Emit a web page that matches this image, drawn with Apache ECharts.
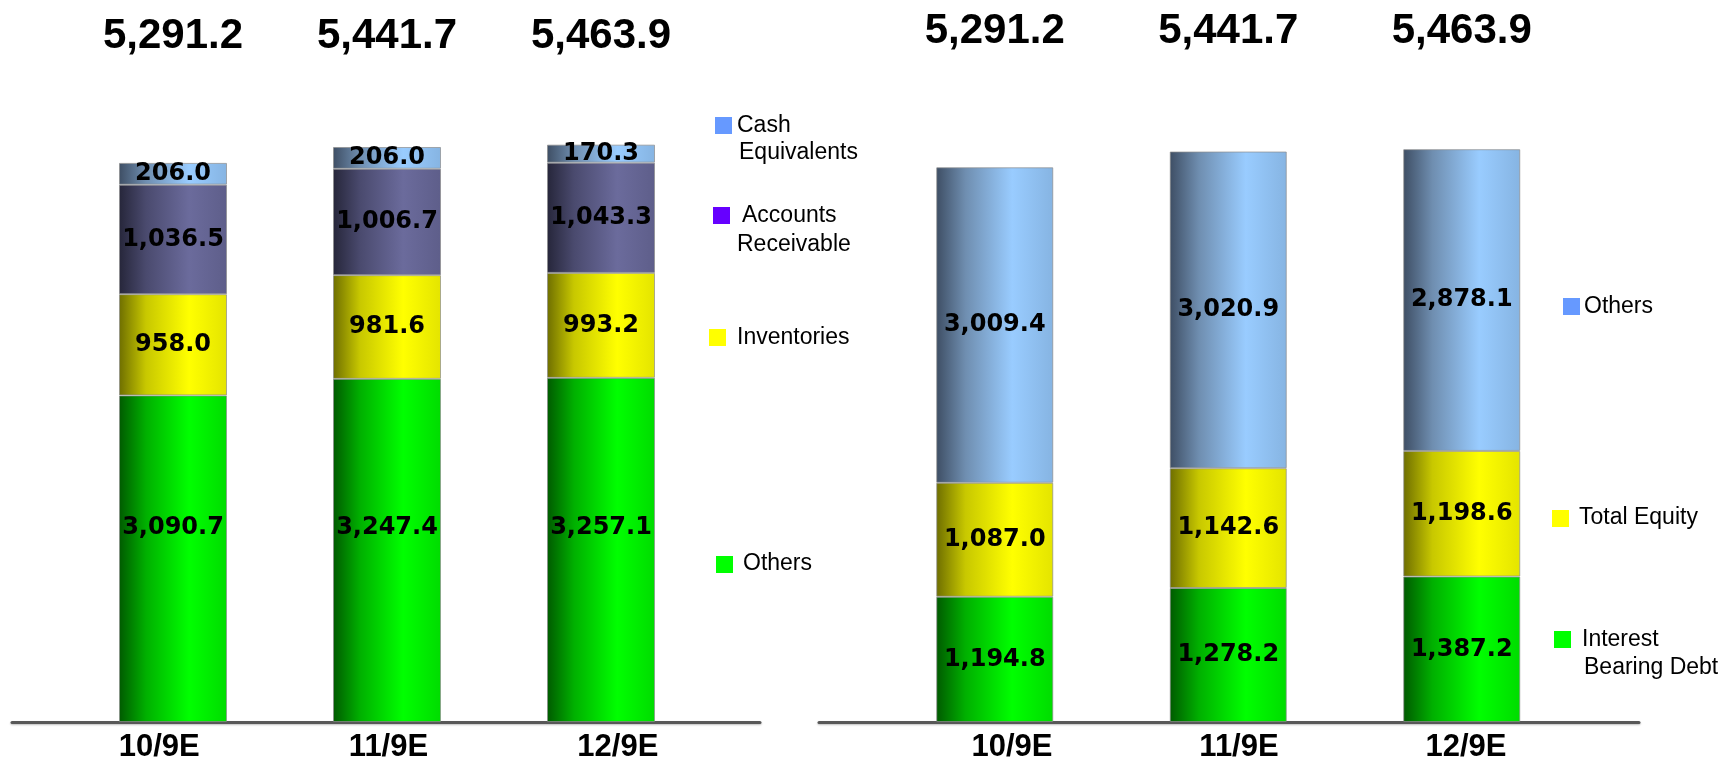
<!DOCTYPE html>
<html>
<head>
<meta charset="utf-8">
<script src="https://cdn.jsdelivr.net/npm/echarts@6/dist/echarts.min.js"></script>
<style>
  html, body { margin: 0; padding: 0; background: #ffffff; }
  #chart { width: 1728px; height: 762px; }
</style>
</head>
<body>
<div id="chart"></div>
<script>
// Periods shown on both panels
const periods = ['10/9E', '11/9E', '12/9E'];

// Assets (left panel), bottom to top
const assetOthers = [3090.7, 3247.4, 3257.1];
const assetInventories = [958.0, 981.6, 993.2];
const assetReceivable = [1036.5, 1006.7, 1043.3];
const assetCash = [206.0, 206.0, 170.3];

// Liabilities and equity (right panel), bottom to top
const liabDebt = [1194.8, 1278.2, 1387.2];
const liabEquity = [1087.0, 1142.6, 1198.6];
const liabOthers = [3009.4, 3020.9, 2878.1];

const fmt = v => v.toLocaleString('en-US', { minimumFractionDigits: 1, maximumFractionDigits: 1 });
const sumOf = (...cols) => cols[0].map((_, i) => cols.reduce((s, c) => s + c[i], 0));
const assetTotals = sumOf(assetOthers, assetInventories, assetReceivable, assetCash).map(fmt);
const liabTotals = sumOf(liabDebt, liabEquity, liabOthers).map(fmt);

const HEAD_FONT = '"Liberation Sans", Arial, sans-serif';
const VALUE_FONT = '"DejaVu Sans", Verdana, sans-serif';
const LEGEND_FONT = '"Liberation Sans", Arial, sans-serif';

// Cylinder-like horizontal shading
function shade(dark, mid, light, edge) {
  return {
    type: 'linear', x: 0, y: 0, x2: 1, y2: 0,
    colorStops: [
      { offset: 0, color: dark },
      { offset: 0.25, color: mid },
      { offset: 0.65, color: light },
      { offset: 1, color: edge }
    ]
  };
}
const GREEN = shade('#005a00', '#00b000', '#00ff00', '#00dc00');
const YELLOW = shade('#6e6e00', '#c8c800', '#ffff00', '#e4e400');
const PURPLE = shade('#26263a', '#4a4a6e', '#6b6b9c', '#5e5e8a');
const SKY = shade('#3e4e64', '#6f8eb0', '#99ccff', '#86b4e2');

const valueLabel = {
  show: true,
  position: 'inside',
  fontFamily: VALUE_FONT,
  fontWeight: 'bold',
  fontSize: 24,
  color: '#000000',
  formatter: p => fmt(p.value)
};

function barSeries(name, data, color, grid, width, labelOverride) {
  return {
    name, type: 'bar', stack: 'g' + grid,
    xAxisIndex: grid, yAxisIndex: grid,
    data, barWidth: width,
    itemStyle: { color, borderColor: 'rgba(140,140,140,0.7)', borderWidth: 1 },
    label: Object.assign({}, valueLabel, labelOverride || {}),
    emphasis: { disabled: true }
  };
}

const hiddenY = (grid, max) => ({ type: 'value', gridIndex: grid, min: 0, max, show: false });

const baseLine = { color: '#585858', width: 3, shadowColor: 'rgba(0,0,0,0.25)', shadowBlur: 2, shadowOffsetY: 1 };

const periodAxis = grid => ({
  type: 'category', gridIndex: grid, data: periods,
  axisLine: { show: false }, axisTick: { show: false },
  axisLabel: { interval: 0, margin: 12, verticalAlign: 'top', lineHeight: 26, fontFamily: HEAD_FONT, fontWeight: 'bold', fontSize: 31, color: '#000' }
});
const totalAxis = (grid, totals, margin) => ({
  type: 'category', gridIndex: grid, position: 'top', data: totals,
  axisLine: { show: false }, axisTick: { show: false },
  axisLabel: { interval: 0, margin, verticalAlign: 'bottom', lineHeight: 42, fontFamily: HEAD_FONT, fontWeight: 'bold', fontSize: 42, color: '#000' }
});
const lineAxis = grid => ({
  type: 'value', gridIndex: grid, min: 0, max: 1,
  axisLine: { show: true, onZero: false, lineStyle: baseLine },
  axisTick: { show: false }, axisLabel: { show: false }, splitLine: { show: false }
});

const option = {
  animation: false,
  backgroundColor: '#ffffff',
  grid: [
    // 0: left bars, 1: right bars
    { left: 66, width: 642, top: 88, bottom: 40, outerBoundsMode: 'none' },
    { left: 878, width: 700.5, top: 93, bottom: 40, outerBoundsMode: 'none' },
    // 2, 3: base lines
    { left: 12, right: 968, top: 600, bottom: 40, outerBoundsMode: 'none' },
    { left: 819, right: 89, top: 600, bottom: 40, outerBoundsMode: 'none' },
    // 4, 5: period labels
    { left: 44.5, width: 688, top: 600, bottom: 40, outerBoundsMode: 'none' },
    { left: 898.5, width: 681, top: 600, bottom: 40, outerBoundsMode: 'none' }
  ],
  xAxis: [
    { type: 'category', gridIndex: 0, data: periods, show: false },
    { type: 'category', gridIndex: 1, data: periods, show: false },
    lineAxis(2),
    lineAxis(3),
    periodAxis(4),
    periodAxis(5),
    totalAxis(0, assetTotals, 31),
    totalAxis(1, liabTotals, 41)
  ],
  yAxis: [
    hiddenY(0, 6000), hiddenY(1, 6000),
    hiddenY(2, 1), hiddenY(3, 1), hiddenY(4, 1), hiddenY(5, 1)
  ],
  series: [
    barSeries('Others', assetOthers, GREEN, 0, 108, { position: 'insideBottom', distance: 182 }),
    barSeries('Inventories', assetInventories, YELLOW, 0, 108),
    barSeries('Accounts Receivable', assetReceivable, PURPLE, 0, 108),
    barSeries('Cash Equivalents', assetCash, SKY, 0, 108),
    barSeries('Interest Bearing Debt', liabDebt, GREEN, 1, 117),
    barSeries('Total Equity', liabEquity, YELLOW, 1, 117),
    barSeries('Others', liabOthers, SKY, 1, 117)
  ],
  graphic: (function () {
    const items = [];
    const key = (x, y, color) => items.push({ type: 'rect', x, y, shape: { width: 17, height: 17 }, style: { fill: color }, silent: true });
    const txt = (x, y, text) => items.push({ type: 'text', x, y, style: { text, fontFamily: LEGEND_FONT, fontSize: 23, fill: '#000', verticalAlign: 'middle', align: 'left' }, silent: true });
    key(715, 117, '#6699ff'); txt(737, 126, 'Cash'); txt(739, 153, 'Equivalents');
    key(713, 207, '#6600ff'); txt(742, 216, 'Accounts'); txt(737, 245, 'Receivable');
    key(709, 329, '#ffff00'); txt(737, 338, 'Inventories');
    key(716, 556, '#00ff00'); txt(743, 564, 'Others');
    key(1563, 298, '#6699ff'); txt(1584, 307, 'Others');
    key(1552, 510, '#ffff00'); txt(1579, 518, 'Total Equity');
    key(1554, 631, '#00ff00'); txt(1582, 640, 'Interest'); txt(1584, 668, 'Bearing Debt');
    return items;
  })()
};

const chart = echarts.init(document.getElementById('chart'), null, { renderer: 'canvas' });
chart.setOption(option);
</script>
</body>
</html>
